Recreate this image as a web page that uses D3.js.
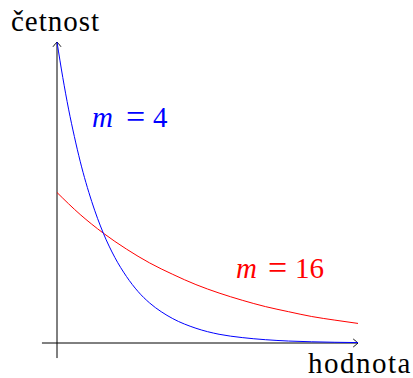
<!DOCTYPE html>
<html>
<head>
<meta charset="utf-8">
<script src="https://cdn.jsdelivr.net/npm/d3@7"></script>
<style>
  html, body { margin: 0; padding: 0; background: #fff; }
  svg { display: block; }
</style>
</head>
<body>
<svg id="chart" width="413" height="378"></svg>
<script>
// Sample points of the two frequency curves (hodnota -> četnost)
const xValues    = [0, 0.5, 1, 1.5, 2, 3, 4, 5, 6, 7, 8, 9, 10, 12, 14, 16, 18, 20, 22, 24, 26];
const blueValues = [1.000, 0.882, 0.777, 0.686, 0.604, 0.470, 0.365, 0.284, 0.221, 0.171, 0.133,
                    0.104, 0.081, 0.049, 0.029, 0.018, 0.011, 0.0065, 0.004, 0.0024, 0.0014];
const redX       = [0, 2, 4, 6, 8, 10, 12, 14, 16, 18, 20, 22, 24, 26];
const redValues  = [0.500, 0.427, 0.365, 0.312, 0.266, 0.228, 0.194, 0.166, 0.142, 0.121,
                    0.104, 0.088, 0.076, 0.065];
const seriesLabels = ["m = 4", "m = 16"];
const axisLabels = ["hodnota", "četnost"];

const serif = "'Liberation Serif'";

const svg = d3.select("#chart");

const x = d3.scaleLinear().domain([0, 26]).range([57, 358]);
const y = d3.scaleLinear().domain([0, 1]).range([343, 42]);

// arrow head in the style of a TikZ "to" tip
const defs = svg.append("defs");
defs.append("marker")
  .attr("id", "tip")
  .attr("viewBox", "-6 -5 8 10")
  .attr("refX", 0).attr("refY", 0)
  .attr("markerWidth", 8).attr("markerHeight", 10)
  .attr("markerUnits", "userSpaceOnUse")
  .attr("orient", "auto")
  .append("path")
  .attr("d", "M-4.5,-3.8 Q-1.2,-1.2 0,0 Q-1.2,1.2 -4.5,3.8")
  .attr("fill", "none")
  .attr("stroke", "#000")
  .attr("stroke-width", 0.9)
  .attr("stroke-linecap", "round");

// axes
svg.append("line")
  .attr("x1", x(-1.3)).attr("y1", y(0))
  .attr("x2", x(26)).attr("y2", y(0))
  .attr("stroke", "#000").attr("stroke-width", 1)
  .attr("marker-end", "url(#tip)");
svg.append("line")
  .attr("x1", x(0)).attr("y1", y(-0.05))
  .attr("x2", x(0)).attr("y2", y(1))
  .attr("stroke", "#000").attr("stroke-width", 1)
  .attr("marker-end", "url(#tip)");

const line = d3.line()
  .x(d => x(d[0]))
  .y(d => y(d[1]))
  .curve(d3.curveMonotoneX);

svg.append("path")
  .datum(redX.map((v, i) => [v, redValues[i]]))
  .attr("d", line)
  .attr("fill", "none")
  .attr("stroke", "#ff0000")
  .attr("stroke-width", 1);

svg.append("path")
  .datum(xValues.map((v, i) => [v, blueValues[i]]))
  .attr("d", line)
  .attr("fill", "none")
  .attr("stroke", "#0000ff")
  .attr("stroke-width", 1);

// axis labels
svg.append("text")
  .attr("x", 308).attr("y", 373)
  .style("font-family", serif)
  .attr("font-size", 29)
  .attr("letter-spacing", 1.5)
  .attr("fill", "#000")
  .text(axisLabels[0]);
svg.append("text")
  .attr("x", 11).attr("y", 31)
  .style("font-family", serif)
  .attr("font-size", 29)
  .attr("letter-spacing", 1)
  .attr("fill", "#000")
  .text(axisLabels[1]);

// series labels: italic variable, upright "=" and number
function mathLabel(str, px, eqx, numx, py, color) {
  const parts = str.split(" = ");
  const t = svg.append("text")
    .attr("y", py)
    .style("font-family", serif)
    .attr("font-size", 29)
    .attr("fill", color);
  t.append("tspan").attr("x", px).style("font-style", "italic").text(parts[0]);
  t.append("tspan").attr("x", eqx).attr("font-size", 34).attr("dy", 1).text("=");
  t.append("tspan").attr("x", numx).attr("dy", -1).text(parts[1]);
}
mathLabel(seriesLabels[0], 92, 126, 153, 127, "#0000ff");
mathLabel(seriesLabels[1], 236, 268, 295, 278, "#ff0000");
</script>
</body>
</html>
